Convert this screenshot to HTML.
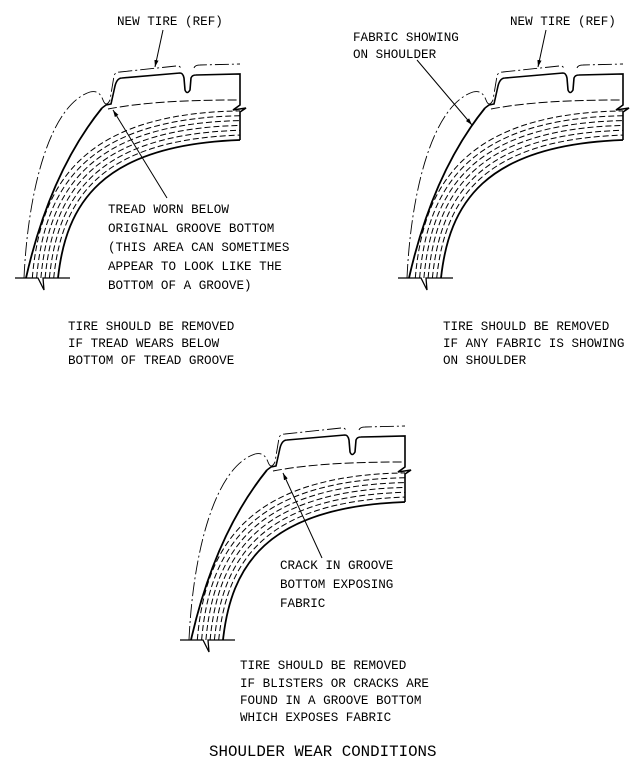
<!DOCTYPE html>
<html><head><meta charset="utf-8"><style>
html,body{margin:0;padding:0;background:#fff;}
svg{display:block;}
text{font-family:"Liberation Mono","DejaVu Sans Mono",monospace;font-size:12.6px;fill:#000;}
.t{font-size:15.8px;}
</style></head><body>
<svg width="642" height="773" viewBox="0 0 642 773" xmlns="http://www.w3.org/2000/svg">
<defs>
<marker id="ah" viewBox="0 0 10 10" refX="10" refY="5" markerWidth="7" markerHeight="7" orient="auto-start-reverse" markerUnits="userSpaceOnUse">
<path d="M0,2 L10,5 L0,8 z" fill="#000"/></marker>
<g id="tire" fill="none" stroke="#000">
  <path d="M15,278 H38 L44,290 L43,278 H70" stroke-width="1.3"/>
  <path d="M26,278 C38,225 60,160 102,108" stroke-width="1.8"/>
  <path d="M102,108 L106,105 L111,104 L115,86 Q117,78 122,78 L180,73 Q183,73 184,78 L185,90 Q187,95 190,90 L191,78 Q192,75 196,75 L240,74 V105 L233,110 L246,108 L240,112 V140" stroke-width="1.6"/>
  <path d="M58,278 C66,205 100,145 240,140" stroke-width="1.8"/>
  <path d="M108,109 C150,101 200,100 240,100" stroke-width="1" stroke-dasharray="9,3"/>
  <g stroke-width="1" stroke-dasharray="6,3">
    <path d="M32.3,278 C40.3,183.6 82.9,113.3 240,110.9"/>
    <path d="M36.6,278 C44.6,187.1 85.7,118.6 240,115.7"/>
    <path d="M40.9,278 C48.9,190.7 88.6,123.9 240,120.6"/>
    <path d="M45.1,278 C53.1,194.3 91.4,129.1 240,125.4"/>
    <path d="M49.4,278 C57.4,197.9 94.3,134.4 240,130.3"/>
    <path d="M53.7,278 C61.7,201.4 97.1,139.7 240,135.1"/>
  </g>
  <path d="M24,278 C28,190 50,105 90,92 C98,90 101,95 103,100 Q106,108 110,100 L114,76 Q115,72 120,72 L176,66 Q180,65 182,70 M194,68 Q195,65 200,65 L240,64" stroke-width="0.9" stroke-dasharray="14,3,2,3"/>
</g>
</defs>

<use href="#tire"/>
<use href="#tire" transform="translate(383,0)"/>
<use href="#tire" transform="translate(165,362)"/>

<g stroke="#000" stroke-width="1" fill="none">
  <line x1="163" y1="30" x2="155" y2="67" marker-end="url(#ah)"/>
  <line x1="167" y1="198" x2="113" y2="110" marker-end="url(#ah)"/>
  <line x1="546" y1="30" x2="538" y2="67" marker-end="url(#ah)"/>
  <line x1="417" y1="60" x2="472" y2="125" marker-end="url(#ah)"/>
  <line x1="322" y1="558" x2="283" y2="473" marker-end="url(#ah)"/>
</g>

<text x="117" y="25">NEW TIRE (REF)</text>
<text x="108" y="213">TREAD WORN BELOW</text>
<text x="108" y="232">ORIGINAL GROOVE BOTTOM</text>
<text x="108" y="251">(THIS AREA CAN SOMETIMES</text>
<text x="108" y="270">APPEAR TO LOOK LIKE THE</text>
<text x="108" y="289">BOTTOM OF A GROOVE)</text>

<text x="68" y="330">TIRE SHOULD BE REMOVED</text>
<text x="68" y="347">IF TREAD WEARS BELOW</text>
<text x="68" y="364">BOTTOM OF TREAD GROOVE</text>

<text x="353" y="41">FABRIC SHOWING</text>
<text x="353" y="58">ON SHOULDER</text>
<text x="510" y="25">NEW TIRE (REF)</text>

<text x="443" y="330">TIRE SHOULD BE REMOVED</text>
<text x="443" y="347">IF ANY FABRIC IS SHOWING</text>
<text x="443" y="364">ON SHOULDER</text>

<text x="280" y="569">CRACK IN GROOVE</text>
<text x="280" y="588">BOTTOM EXPOSING</text>
<text x="280" y="607">FABRIC</text>

<text x="240" y="669">TIRE SHOULD BE REMOVED</text>
<text x="240" y="687">IF BLISTERS OR CRACKS ARE</text>
<text x="240" y="704">FOUND IN A GROOVE BOTTOM</text>
<text x="240" y="721">WHICH EXPOSES FABRIC</text>

<text class="t" x="209" y="756">SHOULDER WEAR CONDITIONS</text>
</svg>
</body></html>
